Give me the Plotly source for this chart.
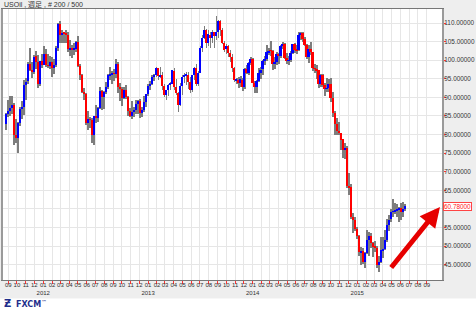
import pandas as pd
import plotly.graph_objects as go

# ---------------- data (weekly USOil OHLC, weeks ending Fri 2011-08-26 .. 2015-06-19) ----------------
first_week = "2011-08-24"
n_weeks = 200

opens = [
    # 2011
    82.8, 85.4, 86.4, 87.2, 87.9, 79.8, 79.2, 83.0, 86.8, 87.4, 93.3, 94.3, 99.0, 97.4, 96.8, 101.0, 99.4, 93.5, 99.7,
    # 2012
    98.8, 101.6, 98.7, 98.5, 99.6, 97.8, 98.7, 103.2, 109.8, 106.7, 107.4, 107.1, 106.9, 103.0, 103.3, 102.8, 103.1, 104.9,
    98.5, 96.1, 91.5, 90.9, 83.2, 84.1, 84.0, 79.8, 85.0, 84.5, 87.1, 91.8, 90.1, 91.4, 92.9, 96.0, 96.2, 96.5, 96.4, 99.0,
    92.9, 92.2, 89.9, 91.9, 90.1, 86.3, 84.9, 86.1, 86.7, 88.3, 88.9, 85.9, 86.7, 88.7,
    # 2013
    90.8, 93.1, 93.6, 95.6, 95.9, 97.8, 95.7, 95.9, 93.1, 90.7, 92.0, 93.5, 93.7, 97.2, 92.7, 91.3, 88.0, 93.0, 95.6, 96.0,
    96.0, 94.2, 92.0, 96.0, 97.9, 93.7, 96.6, 103.2, 106.0, 108.1, 104.7, 106.9, 106.0, 107.5, 106.4, 107.7, 110.5, 108.2,
    104.7, 102.9, 103.8, 102.0, 100.8, 97.9, 94.6, 94.6, 93.8, 94.8, 92.7, 97.7, 96.6, 99.3,
    # 2014
    100.3, 94.0, 92.7, 94.4, 96.6, 97.5, 99.9, 100.3, 102.2, 102.6, 102.6, 98.9, 99.5, 101.7, 101.1, 103.7, 104.3, 100.6,
    99.8, 100.0, 102.0, 104.4, 102.7, 102.7, 106.9, 107.3, 105.7, 104.1, 100.8, 103.1, 102.1, 97.9, 97.7, 97.4, 93.7, 96.0,
    93.3, 92.3, 92.4, 93.5, 89.7, 85.8, 82.8, 81.0, 80.5, 78.7, 75.8, 76.5, 66.2, 65.8, 57.8, 57.1,
    # 2015
    54.7, 52.7, 48.4, 48.7, 45.6, 48.2, 51.7, 52.8, 50.8, 49.8, 49.6, 44.8, 45.7, 48.9, 49.1, 51.6, 55.7, 57.2, 59.2, 59.4,
    59.7, 59.7, 60.3, 59.1, 59.96,
]

highs = [
    85.9, 89.2, 90.5, 90.5, 88.5, 84.2, 83.4, 87.3, 89.0, 94.65, 95.2, 99.4, 103.4, 99.4, 101.3, 102.4, 101.5, 99.8, 101.8,
    103.7, 103.0, 101.8, 101.0, 100.9, 100.3, 103.7, 109.95, 110.55, 108.0, 107.6, 108.2, 107.7, 105.5, 104.2, 104.5, 105.1,
    106.4, 98.9, 96.2, 92.6, 91.1, 86.4, 84.7, 84.4, 85.0, 88.0, 87.4, 92.9, 91.9, 91.7, 94.1, 96.4, 98.3, 97.2, 97.7, 100.4,
    99.4, 93.9, 92.8, 92.9, 93.3, 90.5, 87.1, 88.9, 87.3, 89.2, 89.3, 89.6, 87.3, 90.5, 91.0,
    93.6, 94.4, 96.0, 96.4, 98.2, 98.0, 98.2, 96.9, 93.6, 92.1, 93.5, 94.1, 97.4, 97.8, 94.9, 91.5, 93.8, 96.0, 96.5, 96.7,
    96.9, 95.4, 96.1, 98.2, 99.0, 97.2, 103.9, 106.7, 109.3, 108.4, 108.0, 107.6, 108.0, 107.7, 112.0, 110.7, 110.7, 108.7,
    105.1, 104.3, 104.0, 102.7, 101.8, 98.3, 95.1, 95.5, 95.8, 95.3, 97.8, 98.8, 99.5, 100.8,
    100.5, 94.5, 94.6, 97.8, 98.3, 100.0, 101.1, 104.0, 103.3, 105.2, 102.8, 100.8, 102.2, 101.9, 104.0, 104.9, 104.5, 102.0,
    101.0, 102.4, 104.4, 104.6, 104.1, 107.7, 107.7, 107.5, 106.3, 104.3, 104.2, 104.8, 102.3, 99.0, 98.6, 97.4, 96.2, 96.2,
    93.8, 95.1, 95.0, 95.2, 91.5, 86.3, 84.4, 83.4, 80.5, 78.8, 77.8, 76.9, 69.7, 66.8, 58.8, 57.7,
    55.1, 53.1, 49.8, 49.5, 48.3, 54.2, 53.9, 53.6, 51.0, 51.3, 50.1, 47.4, 52.5, 52.5, 54.3, 57.4, 58.4, 59.9, 62.6, 61.6,
    61.3, 60.5, 61.7, 61.9, 61.3,
]

lows = [
    81.2, 84.6, 84.9, 85.4, 77.1, 77.6, 74.95, 82.4, 84.3, 85.2, 89.2, 93.7, 97.1, 95.1, 96.2, 97.5, 92.5, 93.1, 97.9,
    98.7, 98.1, 97.8, 97.7, 95.4, 96.4, 98.1, 102.6, 104.5, 104.6, 104.5, 104.6, 102.1, 101.1, 100.7, 101.4, 102.1, 98.1,
    94.7, 91.2, 89.3, 82.6, 81.2, 81.8, 77.7, 77.3, 83.0, 83.3, 86.8, 86.6, 86.9, 91.0, 92.3, 94.8, 93.5, 94.4, 95.3, 91.3,
    89.1, 87.6, 89.5, 89.6, 84.9, 84.8, 84.1, 84.6, 85.4, 85.6, 84.5, 84.7, 86.1, 87.4,
    90.5, 92.1, 93.2, 94.4, 95.5, 94.8, 95.1, 92.0, 90.0, 89.3, 90.5, 92.0, 93.6, 92.0, 90.6, 86.1, 87.6, 90.6, 93.9, 93.4,
    92.3, 91.1, 91.4, 94.7, 93.0, 93.1, 96.6, 102.2, 105.6, 103.2, 103.9, 103.2, 104.7, 103.4, 105.5, 106.1, 106.5, 104.3,
    102.2, 101.6, 100.9, 99.6, 96.7, 94.2, 93.5, 92.6, 92.8, 91.8, 92.3, 96.3, 95.9, 98.7,
    93.9, 91.2, 91.2, 94.2, 95.0, 96.0, 98.8, 99.8, 101.4, 101.2, 97.4, 97.7, 98.8, 98.9, 100.6, 102.9, 100.3, 99.0, 98.8,
    99.6, 101.7, 101.9, 101.8, 102.6, 105.4, 104.8, 103.9, 100.4, 99.2, 101.4, 97.2, 96.6, 95.0, 92.5, 92.8, 92.9, 90.4,
    91.4, 91.4, 88.8, 84.6, 79.8, 80.0, 79.8, 75.8, 73.8, 73.3, 65.7, 63.7, 57.3, 53.6, 54.1,
    52.0, 47.4, 44.9, 45.2, 44.2, 48.0, 47.4, 49.5, 47.1, 48.5, 44.2, 42.9, 45.4, 46.7, 49.0, 51.2, 54.0, 56.4, 57.8, 58.5,
    57.7, 56.5, 57.1, 57.8, 59.5,
]

closes = [
    85.4, 86.45, 87.24, 87.96, 79.85, 79.20, 82.98, 86.80, 87.40, 93.32, 94.26, 98.99, 97.41, 96.77, 100.96, 99.41, 93.53,
    99.68, 98.83,
    101.56, 98.70, 98.46, 99.56, 97.84, 98.67, 103.24, 109.77, 106.70, 107.40, 107.06, 106.87, 103.02, 103.31, 102.83,
    103.05, 104.93, 98.49, 96.13, 91.48, 90.86, 83.23, 84.10, 84.03, 79.76, 84.96, 84.45, 87.10, 91.83, 90.13, 91.40,
    92.87, 96.01, 96.15, 96.47, 96.42, 99.00, 92.89, 92.19, 89.88, 91.86, 90.05, 86.28, 84.86, 86.07, 86.67, 88.28, 88.91,
    85.93, 86.73, 88.66, 90.80,
    93.09, 93.56, 95.56, 95.88, 97.77, 95.72, 95.86, 93.13, 90.68, 91.95, 93.45, 93.71, 97.23, 92.70, 91.29, 88.01, 93.00,
    95.61, 96.04, 96.02, 94.15, 91.97, 96.03, 97.85, 93.69, 96.56, 103.22, 105.95, 108.05, 104.70, 106.94, 106.03, 107.46,
    106.42, 107.65, 110.53, 108.21, 104.67, 102.87, 103.84, 102.02, 100.81, 97.85, 94.61, 94.60, 93.84, 94.84, 92.72,
    97.65, 96.60, 99.32, 100.32,
    93.96, 92.72, 94.37, 96.64, 97.49, 99.88, 100.30, 102.20, 102.59, 102.58, 98.89, 99.46, 101.67, 101.14, 103.74,
    104.30, 100.60, 99.76, 99.99, 102.02, 104.35, 102.71, 102.66, 106.91, 107.26, 105.74, 104.06, 100.83, 103.13, 102.09,
    97.88, 97.65, 97.35, 93.65, 95.96, 93.29, 92.27, 92.41, 93.54, 89.74, 85.82, 82.75, 81.01, 80.54, 78.65, 75.82, 76.51,
    66.15, 65.84, 57.81, 57.13, 54.73,
    52.69, 48.36, 48.69, 45.59, 48.24, 51.69, 52.78, 50.81, 49.76, 49.61, 44.84, 45.72, 48.87, 49.14, 51.64, 55.74, 57.15,
    59.15, 59.39, 59.69, 59.72, 60.30, 59.13, 59.96, 60.78,
]

last_price = 60.78
price_ticks = [45, 50, 55, 60, 65, 70, 75, 80, 85, 90, 95, 100, 105, 110]
title_text = "USOil , 週足 , # 200 / 500"

# ---------------- figure ----------------
dates = pd.date_range(first_week, periods=n_weeks, freq="7D")
DAY = 86400000

body_base = [min(o, c) for o, c in zip(opens, closes)]
body_h = [max(abs(c - o), 0.12) for o, c in zip(opens, closes)]
body_col = ["#0000ff" if c >= o else "#ff0000" for o, c in zip(opens, closes)]
wick_h = [h - l for h, l in zip(highs, lows)]

fig = go.Figure()
# wicks (thin gray bars from low to high)
fig.add_trace(go.Bar(x=dates, y=wick_h, base=lows, marker=dict(color="#7d7d7d", line=dict(width=0)),
                     width=2.8 * DAY, hoverinfo="skip"))
# bodies
fig.add_trace(go.Bar(x=dates, y=body_h, base=body_base, marker=dict(color=body_col, line=dict(width=0)),
                     width=6 * DAY))

month_ticks = pd.date_range("2011-09-01", "2015-09-01", freq="MS")
tick_text = [t.strftime("%m") + ("<br>" + t.strftime("%Y") if t.month == 1 else "") for t in month_ticks]
price_text = ["" if v == 60 else f"{v:.5f}" for v in price_ticks]

fig.update_layout(
    width=476, height=318,
    margin=dict(l=3, r=34, t=9, b=38, autoexpand=False),
    paper_bgcolor="#eeeeee", plot_bgcolor="white",
    showlegend=False, barmode="overlay", bargap=0,
    font=dict(family="Liberation Sans, Arial, Noto Sans CJK JP", size=7, color="#333333"),
    xaxis=dict(type="date", range=["2011-08-13 12:00", "2015-10-24"],
               tickvals=list(month_ticks), ticktext=tick_text, tickangle=0,
               tickfont=dict(size=6),
               showgrid=True, gridcolor="#e6e6e6", gridwidth=1,
               ticks="outside", ticklen=3, tickcolor="#ff3333",
               ticklabelstandoff=-4,
               showline=True, linecolor="#777777", linewidth=1, mirror=True,
               zeroline=False, fixedrange=True, automargin=False),
    yaxis=dict(side="right", range=[40.88, 113.77],
               tickvals=price_ticks, ticktext=price_text,
               tickfont=dict(size=6.4),
               showgrid=True, gridcolor="#e6e6e6", gridwidth=1,
               ticks="outside", ticklen=2, tickcolor="#ff3333",
               ticklabelstandoff=-3,
               showline=True, linecolor="#9a9a9a", linewidth=2, mirror=True,
               zeroline=False, fixedrange=True, automargin=False),
)

# white footer band with logo
fig.add_shape(type="rect", xref="paper", yref="paper", x0=-0.05, x1=1.2,
              y0=-45 / 271, y1=-18.5 / 271, fillcolor="white", line=dict(width=0), layer="below")

fig.add_annotation(text=title_text, xref="paper", yref="paper", x=-0.002, y=1 + 4.6 / 271,
                   xanchor="left", yanchor="middle", showarrow=False,
                   font=dict(size=7, color="#333333"))

fig.add_annotation(text=f"{last_price:.5f}", xref="paper", yref="y", x=1, y=last_price,
                   xanchor="left", yanchor="middle", xshift=1, showarrow=False,
                   font=dict(size=6.4, color="#ff2222"), bgcolor="white",
                   bordercolor="#ff4444", borderwidth=1, borderpad=0)

fig.add_annotation(text="", xref="paper", yref="paper", x=437 / 439, y=73 / 271,
                   ax=-50, ay=62, showarrow=True, arrowhead=2, arrowsize=0.8,
                   arrowwidth=5, arrowcolor="#e60000", standoff=0)

fig.add_annotation(text="<b>Ƶ</b>", xref="paper", yref="paper", x=-0.002, y=-23.5 / 271,
                   xanchor="left", yanchor="middle", showarrow=False,
                   font=dict(size=10, color="#1f2f8c", family="DejaVu Sans"))
fig.add_annotation(text="<b>FXCM</b><sup>™</sup>", xref="paper", yref="paper", x=11 / 439, y=-23.5 / 271,
                   xanchor="left", yanchor="middle", showarrow=False,
                   font=dict(size=8, color="#1f2f8c", family="DejaVu Sans"))

fig.write_html("out.html")
